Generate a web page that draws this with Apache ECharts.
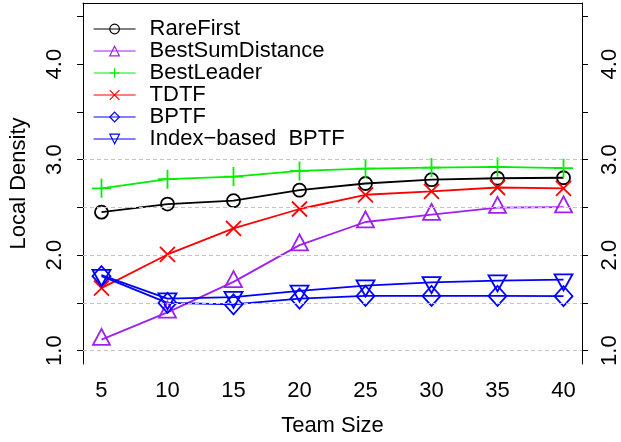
<!DOCTYPE html>
<html>
<head>
<meta charset="utf-8">
<script src="https://cdn.jsdelivr.net/npm/echarts@6/dist/echarts.min.js"></script>
<style>html,body{margin:0;padding:0;background:#fff;}#c{width:621px;height:442px;}</style>
</head>
<body>
<div id="c"></div>
<script>
var teamSizes = [5, 10, 15, 20, 25, 30, 35, 40];
var rareFirst = [2.45, 2.535, 2.57, 2.68, 2.75, 2.79, 2.805, 2.81];
var bestSumDistance = [1.115, 1.40, 1.72, 2.105, 2.347, 2.425, 2.497, 2.503];
var bestLeader = [2.70, 2.795, 2.823, 2.882, 2.906, 2.917, 2.924, 2.91];
var tdtf = [1.655, 2.007, 2.28, 2.483, 2.632, 2.667, 2.708, 2.70];
var bptf = [1.78, 1.50, 1.485, 1.545, 1.573, 1.573, 1.573, 1.57];
var indexBptf = [1.79, 1.545, 1.56, 1.625, 1.68, 1.715, 1.733, 1.743];
var yTickValues = [1, 1.5, 2, 2.5, 3, 3.5, 4, 4.5];
var yLabelValues = [1, 2, 3, 4];
var gridValues = [1, 1.5, 2, 2.5, 3];

var FONT = 'Liberation Sans';
function pts(arr) { return teamSizes.map(function (x, i) { return [x, arr[i]]; }); }

var PLUS = 'path://M5,0 L5,10 M0,5 L10,5';
var CROSS = 'path://M0,0 L10,10 M10,0 L0,10';
var CLEAR = 'rgba(255,255,255,0)';

function mk(name, data, color, symbol, size, extra) {
  var s = {
    name: name, type: 'line', data: pts(data),
    symbol: symbol, symbolSize: size,
    lineStyle: { color: color, width: 1.8 },
    itemStyle: { color: CLEAR, borderColor: color, borderWidth: 1.8 },
    emphasis: { disabled: true },
    animation: false, z: 3
  };
  for (var k in extra) s[k] = extra[k];
  return s;
}

var yAxisCommon = {
  type: 'value', min: 0.86, max: 4.64,
  axisLine: { show: true, lineStyle: { color: '#000', width: 1 } },
  axisTick: { show: true, length: 6, customValues: yTickValues, lineStyle: { color: '#000' } },
  splitLine: { show: false },
  axisLabel: {
    customValues: yLabelValues, rotate: 90, color: '#000',
    fontFamily: FONT, fontSize: 22,
    formatter: function (v) { return v.toFixed(1); }
  }
};

var option = {
  backgroundColor: '#fff',
  animation: false,
  grid: { left: 83, right: 34, top: 3, bottom: 77, containLabel: false },
  legend: {
    orient: 'vertical', left: 88, top: 13,
    itemWidth: 42, itemHeight: 12, itemGap: 0,
    data: ['RareFirst', 'BestSumDistance', 'BestLeader', 'TDTF', 'BPTF', 'Index\u2212based  BPTF'],
    textStyle: { color: '#000', fontFamily: FONT, fontSize: 22, lineHeight: 22, padding: [0, 0, 0, 9] },
    lineStyle: { width: 1.2 },
    itemStyle: { borderWidth: 1.2 },
    selectedMode: false
  },
  xAxis: [{
    type: 'value', min: 3.6, max: 41.4,
    axisLine: { show: false }, axisTick: { show: false }, splitLine: { show: false },
    axisLabel: { customValues: teamSizes, color: '#000', fontFamily: FONT, fontSize: 22, margin: 16 },
    name: 'Team Size', nameLocation: 'middle', nameGap: 51,
    nameTextStyle: { color: '#000', fontFamily: FONT, fontSize: 22 }
  }, {
    type: 'value', min: 3.6, max: 41.4, position: 'top',
    axisLine: { show: true, lineStyle: { color: '#000', width: 1 } },
    axisTick: { show: false }, axisLabel: { show: false }, splitLine: { show: false }
  }],
  yAxis: [
    Object.assign({}, yAxisCommon, {
      position: 'left',
      axisLabel: Object.assign({}, yAxisCommon.axisLabel, { margin: 17 }),
      name: 'Local Density', nameLocation: 'middle', nameGap: 53, nameRotate: 90,
      nameTextStyle: { color: '#000', fontFamily: FONT, fontSize: 22 }
    }),
    Object.assign({}, yAxisCommon, {
      position: 'right',
      axisLabel: Object.assign({}, yAxisCommon.axisLabel, { margin: 17 })
    })
  ],
  series: [
    {
      name: 'grid', type: 'line', data: [], silent: true, z: 1,
      markLine: {
        silent: true, symbol: 'none', label: { show: false }, animation: false,
        lineStyle: { color: '#c4c4c4', type: [4, 3], width: 1 },
        data: gridValues.map(function (v) { return { yAxis: v }; })
      }
    },
    mk('RareFirst', rareFirst, '#000000', 'circle', 13),
    mk('BestSumDistance', bestSumDistance, '#a020f0', 'triangle', [17, 16], { symbolOffset: [0, -2.7] }),
    mk('BestLeader', bestLeader, '#00ee00', PLUS, 19),
    mk('TDTF', tdtf, '#ff0000', CROSS, 15),
    mk('BPTF', bptf, '#0000ff', 'diamond', [18, 20]),
    mk('Index\u2212based  BPTF', indexBptf, '#0000ff', 'triangle', [18, 16], { symbolRotate: 180, symbolOffset: [0, 2.7] })
  ]
};

var chart = echarts.init(document.getElementById('c'), null, { renderer: 'canvas' });
chart.setOption(option);
</script>
</body>
</html>
